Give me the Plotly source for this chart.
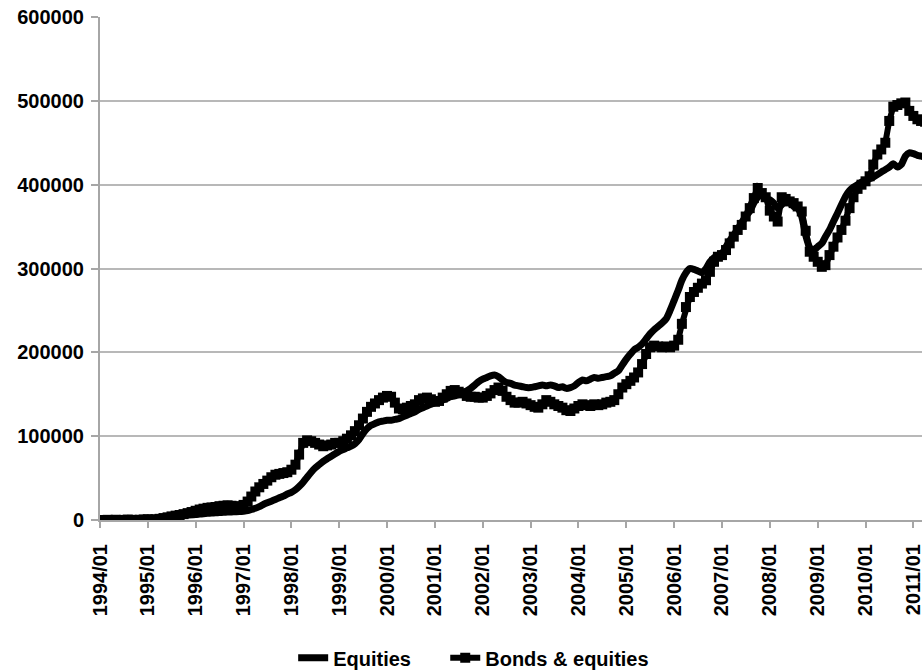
import pandas as pd
import plotly.graph_objects as go

# Monthly portfolio values, January 1994 onward (one row per calendar year)
start_month = "1994-01-01"

equities = [
    0, 300, -200, 100, 500, 200, 600, 900, 700, 400, 800, 1000,                                   # 1994
    1200, 900, 1100, 1500, 2000, 2600, 3400, 4100, 4700, 5200, 5800, 6300,                        # 1995
    6500, 7000, 7400, 7900, 8300, 8600, 8900, 9200, 9400, 9600, 9800, 10000,                      # 1996
    10500, 11200, 12500, 14000, 16000, 18500, 20500, 22500, 24500, 26500, 28500, 31000,           # 1997
    33000, 36000, 40000, 45000, 51000, 57000, 62000, 66000, 70000, 73000, 76000, 79000,           # 1998
    82000, 84000, 86000, 88000, 91000, 96000, 103000, 109000, 113000, 115000, 117000, 118000,     # 1999
    119000, 119000, 120000, 121000, 123000, 125000, 127000, 129000, 132000, 134000, 136000, 138000,  # 2000
    140000, 141000, 143000, 145000, 147000, 148000, 150000, 152000, 154000, 157000, 161000, 165000,  # 2001
    168000, 170000, 172000, 173000, 171000, 167000, 164000, 163000, 161000, 160000, 159000, 158000,  # 2002
    158000, 159000, 160000, 161000, 160000, 161000, 160000, 158000, 159000, 157000, 158000, 160000,  # 2003
    164000, 167000, 166000, 168000, 170000, 169000, 170000, 171000, 172000, 175000, 178000, 185000,  # 2004
    192000, 198000, 203000, 206000, 210000, 216000, 222000, 227000, 231000, 235000, 240000, 250000,  # 2005
    262000, 274000, 286000, 295000, 300000, 299000, 297000, 295000, 300000, 308000, 313000, 316000,  # 2006
    318000, 326000, 333000, 340000, 347000, 355000, 362000, 368000, 378000, 385000, 388000, 384000,  # 2007
    382000, 378000, 372000, 376000, 380000, 378000, 374000, 372000, 362000, 340000, 325000, 322000,  # 2008
    326000, 330000, 338000, 346000, 356000, 366000, 376000, 386000, 393000, 397000, 400000, 403000,  # 2009
    405000, 407000, 409000, 412000, 415000, 418000, 421000, 425000, 421000, 424000, 434000, 438000,  # 2010
    437000, 435000, 434000, 433000,                                                                # 2011
]

bonds_equities = [
    0, -400, 200, -100, 300, -300, 100, 500, 200, -200, 300, 600,                                 # 1994
    900, 500, 800, 1400, 2300, 3200, 4300, 5200, 6000, 7000, 8200, 9500,                          # 1995
    11000, 12500, 13500, 14500, 15000, 15500, 16500, 17000, 17500, 17000, 16500, 16000,           # 1996
    18000, 22000, 28000, 34000, 39000, 43000, 47000, 51000, 54000, 55000, 56000, 57000,           # 1997
    60000, 66000, 78000, 92000, 95000, 94000, 92000, 90000, 88000, 89000, 90000, 92000,           # 1998
    92000, 94000, 97000, 101000, 106000, 113000, 121000, 129000, 135000, 139000, 143000, 146000,  # 1999
    148000, 147000, 140000, 133000, 132000, 134000, 136000, 138000, 143000, 145000, 146000, 144000,  # 2000
    141000, 142000, 146000, 150000, 154000, 155000, 153000, 151000, 148000, 147000, 147000, 146000,  # 2001
    146000, 148000, 151000, 155000, 158000, 154000, 147000, 143000, 140000, 140000, 141000, 139000,  # 2002
    137000, 135000, 134000, 138000, 143000, 141000, 138000, 136000, 134000, 131000, 130000, 133000,  # 2003
    136000, 138000, 137000, 136000, 138000, 137000, 138000, 140000, 141000, 143000, 150000, 158000,  # 2004
    162000, 166000, 170000, 176000, 186000, 198000, 206000, 208000, 207000, 206000, 207000, 206000,  # 2005
    208000, 215000, 234000, 254000, 266000, 272000, 277000, 282000, 286000, 296000, 308000, 314000,  # 2006
    316000, 322000, 330000, 338000, 346000, 352000, 362000, 372000, 384000, 396000, 390000, 385000,  # 2007
    369000, 362000, 356000, 385000, 383000, 380000, 378000, 374000, 368000, 345000, 320000, 314000,  # 2008
    308000, 302000, 304000, 316000, 326000, 337000, 346000, 357000, 372000, 385000, 395000, 400000,  # 2009
    404000, 410000, 424000, 436000, 442000, 450000, 476000, 493000, 495000, 497000, 498000, 488000,  # 2010
    482000, 478000, 476000, 475000,                                                                # 2011
]

y_ticks = [0, 100000, 200000, 300000, 400000, 500000, 600000]

months = pd.date_range(start_month, periods=len(equities), freq="MS")

font_family = "Liberation Sans, Arial, sans-serif"
axis_grey = "#a6a6a6"
legend_font = dict(family=font_family, size=20, color="black", weight="bold")

fig = go.Figure()
fig.add_trace(go.Scatter(
    x=months, y=equities, name="Equities", mode="lines",
    line=dict(color="black", width=7, shape="spline", smoothing=0.6),
    legend="legend",
))
fig.add_trace(go.Scatter(
    x=months, y=bonds_equities, name="Bonds & equities", mode="lines+markers",
    line=dict(color="black", width=6),
    marker=dict(symbol="square", size=10, color="black"),
    legend="legend2",
))

fig.update_layout(
    width=922, height=670,
    margin=dict(l=100, r=0, t=17, b=150, autoexpand=False),
    paper_bgcolor="white", plot_bgcolor="white",
    font=dict(family=font_family, size=20, color="black", weight="bold"),
    showlegend=True,
    legend=dict(
        orientation="h", x=0.235, y=-0.274, xanchor="left", yanchor="middle",
        font=legend_font, bgcolor="rgba(0,0,0,0)",
    ),
    legend2=dict(
        orientation="h", x=0.420, y=-0.274, xanchor="left", yanchor="middle",
        font=legend_font, bgcolor="rgba(0,0,0,0)",
    ),
)

fig.update_xaxes(
    type="date", automargin=False,
    range=["1994-01-01", "2011-03-08"],
    tick0="1994-01-01", dtick="M12", tickformat="%Y/%m",
    tickangle=-90,
    ticks="outside", ticklen=6, tickcolor=axis_grey, tickwidth=2,
    ticklabelstandoff=8, ticklabeloverflow="allow",
    showline=True, linecolor=axis_grey, linewidth=2,
    showgrid=False, zeroline=False,
)
fig.update_yaxes(
    automargin=False,
    range=[0, 600000],
    tickvals=y_ticks, ticktext=[str(v) for v in y_ticks],
    ticks="outside", ticklen=7, tickcolor=axis_grey, tickwidth=2,
    ticklabelstandoff=3,
    showline=True, linecolor=axis_grey, linewidth=2,
    showgrid=True, gridcolor="#b8b8b8", gridwidth=2,
    zeroline=False,
)

fig.write_html("out.html")
